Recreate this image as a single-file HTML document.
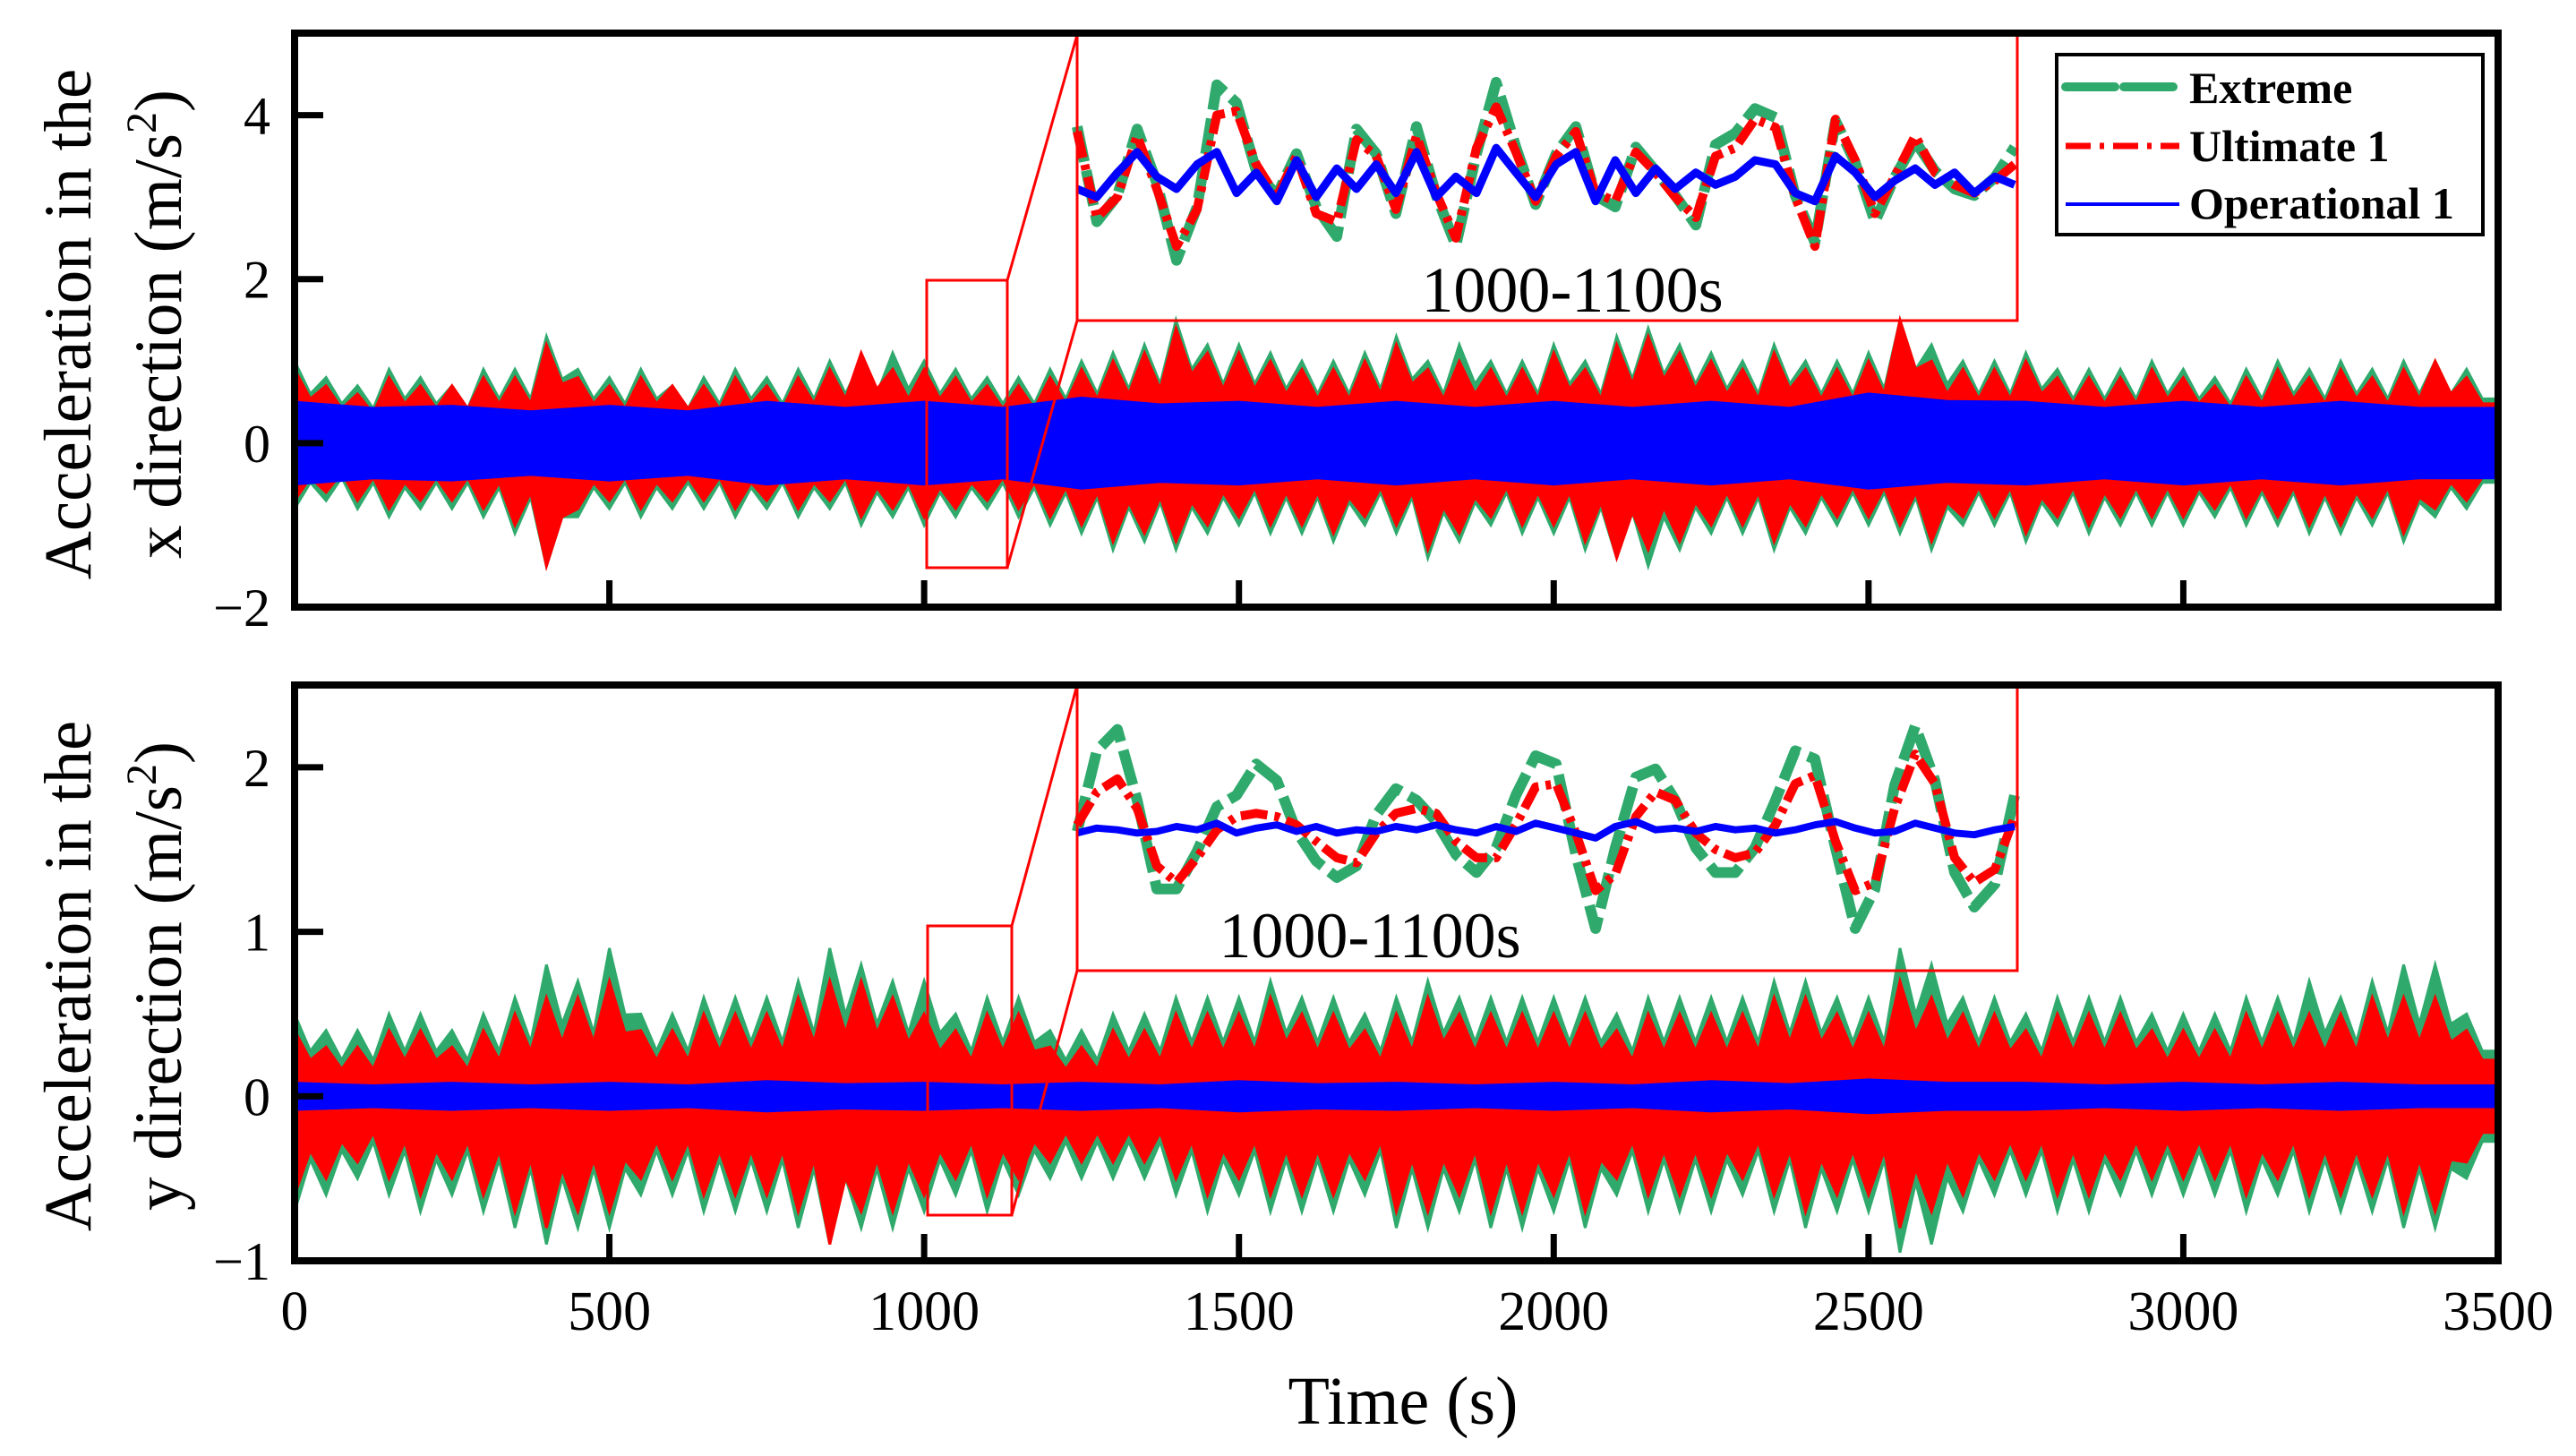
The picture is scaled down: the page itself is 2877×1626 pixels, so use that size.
<!DOCTYPE html>
<html><head><meta charset="utf-8"><style>
html,body{margin:0;padding:0;background:#fff;}
svg{display:block;font-family:"Liberation Serif",serif;}
</style></head><body>
<svg id="chart" width="2877" height="1626" viewBox="0 0 2877 1626" xmlns="http://www.w3.org/2000/svg">
<rect x="0" y="0" width="2877" height="1626" fill="#fff"/>
<g id="layer"></g>
</svg>
<script>
// ---- main series envelopes, 50 s bins (0..3500) ----
const binStarts = [0,50,100,150,200,250,300,350,400,450,500,550,600,650,700,750,800,850,900,950,1000,1050,1100,1150,1200,1250,1300,1350,1400,1450,1500,1550,1600,1650,1700,1750,1800,1850,1900,1950,2000,2050,2100,2150,2200,2250,2300,2350,2400,2450,2500,2550,2600,2650,2700,2750,2800,2850,2900,2950,3000,3050,3100,3150,3200,3250,3300,3350,3400,3450];
const xGreenUp = [1.0,0.8,0.7,0.9,0.8,0.7,0.9,0.9,1.3,0.9, 0.8,0.9,0.7,0.8,0.9,0.8,0.9,1.0,1.0,1.1, 1.0,0.9,0.8,0.8,0.9,1.0,1.1,1.2,1.5,1.2, 1.2,1.1,1.0,1.0,1.1,1.3,1.0,1.2,1.0,1.0, 1.2,1.0,1.3,1.4,1.2,1.1,1.0,1.2,1.0,1.0, 1.1,1.5,1.2,1.0,1.0,1.1,0.9,0.9,0.9,1.0, 0.9,0.8,0.9,1.0,0.9,1.0,0.9,1.0,1.0,0.9];
const xGreenLo = [-0.8,-0.7,-0.8,-0.9,-0.8,-0.8,-0.9,-1.1,-1.5,-0.9, -0.8,-0.9,-0.8,-0.8,-0.9,-0.8,-0.9,-0.8,-1.0,-0.9, -1.0,-0.9,-0.8,-0.9,-1.0,-1.1,-1.3,-1.2,-1.3,-1.1, -1.0,-1.1,-1.1,-1.2,-1.0,-1.1,-1.4,-1.2,-1.0,-1.1, -1.1,-1.3,-1.4,-1.5,-1.3,-1.1,-1.1,-1.3,-1.1,-1.0, -1.0,-1.1,-1.3,-1.0,-1.0,-1.2,-1.0,-1.1,-1.0,-1.0, -1.0,-0.9,-1.0,-1.0,-1.1,-1.1,-1.0,-1.2,-0.9,-0.8];
const xRedUp = [0.9,0.7,0.6,0.8,0.7,0.7,0.8,0.8,1.2,0.8, 0.7,0.8,0.7,0.7,0.8,0.7,0.8,0.9,1.1,0.9, 0.9,0.8,0.7,0.7,0.8,0.9,1.0,1.1,1.4,1.1, 1.1,1.0,0.9,0.9,1.0,1.2,0.9,1.0,0.9,0.9, 1.1,0.9,1.2,1.3,1.1,1.0,0.9,1.1,0.9,0.9, 1.0,1.5,1.0,0.9,0.9,1.0,0.8,0.8,0.8,0.9, 0.8,0.7,0.8,0.9,0.8,0.9,0.8,0.9,1.0,0.8];
const xRedLo = [-0.7,-0.6,-0.7,-0.8,-0.7,-0.7,-0.8,-1.0,-1.5,-0.8, -0.7,-0.8,-0.7,-0.7,-0.8,-0.7,-0.8,-0.7,-0.9,-0.8, -0.9,-0.8,-0.7,-0.8,-0.9,-1.0,-1.2,-1.1,-1.2,-1.0, -0.9,-1.0,-1.0,-1.1,-0.9,-1.0,-1.3,-1.1,-0.9,-1.0, -1.0,-1.2,-1.4,-1.3,-1.2,-1.0,-1.0,-1.2,-1.0,-0.9, -0.9,-1.0,-1.2,-0.9,-0.9,-1.1,-0.9,-1.0,-0.9,-0.9, -0.9,-0.8,-0.9,-0.9,-1.0,-1.0,-0.9,-1.1,-0.8,-0.7];
const yGreenUp = [0.5,0.4,0.4,0.5,0.5,0.4,0.5,0.6,0.8,0.7, 0.9,0.5,0.5,0.6,0.6,0.6,0.7,0.9,0.8,0.7, 0.7,0.5,0.6,0.6,0.4,0.4,0.5,0.5,0.6,0.6, 0.6,0.7,0.6,0.6,0.5,0.6,0.7,0.6,0.6,0.6, 0.6,0.6,0.5,0.6,0.6,0.6,0.6,0.7,0.7,0.6, 0.6,0.9,0.8,0.6,0.6,0.5,0.6,0.6,0.6,0.5, 0.5,0.5,0.6,0.6,0.7,0.6,0.7,0.8,0.8,0.5];
const yGreenLo = [-0.7,-0.6,-0.5,-0.6,-0.7,-0.6,-0.7,-0.8,-0.9,-0.8, -0.8,-0.6,-0.6,-0.7,-0.7,-0.7,-0.8,-0.9,-0.8,-0.8, -0.7,-0.6,-0.7,-0.6,-0.5,-0.5,-0.5,-0.5,-0.6,-0.7, -0.6,-0.7,-0.7,-0.7,-0.6,-0.8,-0.8,-0.7,-0.8,-0.8, -0.7,-0.8,-0.6,-0.7,-0.7,-0.7,-0.6,-0.7,-0.8,-0.7, -0.7,-0.95,-0.9,-0.7,-0.6,-0.6,-0.7,-0.7,-0.6,-0.6, -0.6,-0.6,-0.7,-0.6,-0.7,-0.7,-0.7,-0.8,-0.8,-0.5];
const yRedUp = [0.4,0.3,0.3,0.4,0.4,0.3,0.4,0.5,0.6,0.6, 0.7,0.4,0.4,0.5,0.5,0.5,0.6,0.7,0.7,0.6, 0.5,0.4,0.5,0.5,0.3,0.3,0.4,0.4,0.5,0.5, 0.5,0.6,0.5,0.5,0.4,0.5,0.6,0.5,0.5,0.5, 0.5,0.5,0.4,0.5,0.5,0.5,0.5,0.6,0.6,0.5, 0.5,0.7,0.6,0.5,0.5,0.4,0.5,0.5,0.5,0.4, 0.4,0.4,0.5,0.5,0.5,0.5,0.6,0.6,0.6,0.4];
const yRedLo = [-0.6,-0.5,-0.4,-0.5,-0.6,-0.5,-0.6,-0.7,-0.8,-0.7, -0.7,-0.5,-0.5,-0.6,-0.6,-0.6,-0.7,-0.9,-0.7,-0.7, -0.6,-0.5,-0.6,-0.5,-0.4,-0.4,-0.4,-0.4,-0.5,-0.6, -0.5,-0.6,-0.6,-0.6,-0.5,-0.7,-0.7,-0.6,-0.7,-0.7, -0.6,-0.7,-0.5,-0.6,-0.6,-0.6,-0.5,-0.6,-0.7,-0.6, -0.6,-0.8,-0.7,-0.6,-0.5,-0.5,-0.6,-0.6,-0.5,-0.5, -0.5,-0.5,-0.6,-0.5,-0.6,-0.6,-0.6,-0.7,-0.7,-0.4];
// blue envelopes, 250 s bins
const blueStarts = [0,250,500,750,1000,1250,1500,1750,2000,2250,2500,2750,3000,3250];
const xBlueUp = [0.5,0.45,0.45,0.5,0.5,0.55,0.5,0.5,0.5,0.5,0.6,0.5,0.5,0.5];
const xBlueLo = [-0.5,-0.45,-0.45,-0.5,-0.5,-0.55,-0.5,-0.5,-0.5,-0.5,-0.55,-0.5,-0.5,-0.5];
const yBlueUp = [0.08,0.08,0.08,0.09,0.08,0.08,0.09,0.08,0.08,0.09,0.1,0.08,0.08,0.08];
const yBlueLo = [-0.08,-0.08,-0.08,-0.09,-0.08,-0.08,-0.09,-0.08,-0.08,-0.09,-0.1,-0.08,-0.08,-0.08];
// ---- inset (1000-1100 s) values, in main-axis units ----
const insetTimes = [1000,1002.1,1004.3,1006.4,1008.5,1010.6,1012.8,1014.9,1017,1019.1,1021.3,1023.4,1025.5,1027.7,1029.8,1031.9,1034,1036.2,1038.3,1040.4,1042.6,1044.7,1046.8,1048.9,1051.1,1053.2,1055.3,1057.4,1059.6,1061.7,1063.8,1066,1068.1,1070.2,1072.3,1074.5,1076.6,1078.7,1080.9,1083,1085.1,1087.2,1089.4,1091.5,1093.6,1095.7,1097.9,1100];
const xInsetGreen = [3.86,2.70,3.02,3.83,3.17,2.23,2.88,4.37,4.15,3.32,3.02,3.53,2.88,2.52,3.83,3.53,2.80,3.86,3.02,2.41,3.53,4.40,3.61,2.91,3.53,3.86,3.02,2.88,3.61,3.32,3.02,2.66,3.64,3.78,4.08,3.97,3.02,2.45,3.93,3.42,2.70,3.24,3.68,3.32,3.10,3.02,3.24,3.61];
const xInsetRed = [3.80,2.75,3.00,3.75,3.10,2.40,2.85,4.00,4.05,3.40,3.00,3.50,2.80,2.70,3.70,3.50,2.85,3.75,3.05,2.50,3.60,4.10,3.55,2.95,3.50,3.80,3.05,2.95,3.55,3.30,3.00,2.75,3.50,3.60,3.95,3.85,3.00,2.40,3.95,3.45,2.80,3.25,3.75,3.30,3.15,3.05,3.20,3.40];
const xInsetBlue = [3.10,3.00,3.30,3.55,3.25,3.10,3.40,3.55,3.05,3.30,2.95,3.45,3.00,3.35,3.10,3.40,3.05,3.55,3.00,3.25,3.05,3.60,3.30,3.00,3.40,3.55,2.95,3.45,3.05,3.35,3.10,3.30,3.15,3.25,3.45,3.40,3.05,2.95,3.50,3.30,3.00,3.20,3.35,3.15,3.30,3.05,3.25,3.15];
const yInsetGreen = [1.61,2.10,2.23,1.80,1.26,1.26,1.49,1.76,1.83,2.02,1.92,1.61,1.43,1.33,1.40,1.71,1.87,1.80,1.67,1.47,1.36,1.51,1.83,2.07,2.02,1.47,1.02,1.51,1.94,1.99,1.80,1.51,1.36,1.36,1.51,1.80,2.10,2.05,1.51,1.02,1.26,1.89,2.25,1.92,1.36,1.15,1.29,1.83];
const yInsetRed = [1.65,1.85,1.93,1.75,1.40,1.30,1.45,1.62,1.70,1.72,1.70,1.65,1.55,1.45,1.42,1.60,1.72,1.75,1.72,1.55,1.45,1.45,1.65,1.88,1.90,1.60,1.25,1.35,1.70,1.85,1.80,1.60,1.50,1.45,1.48,1.65,1.90,1.95,1.55,1.25,1.30,1.75,2.08,1.90,1.45,1.30,1.38,1.70];
const yInsetBlue = [1.60,1.63,1.62,1.60,1.61,1.64,1.62,1.66,1.60,1.63,1.65,1.61,1.64,1.60,1.62,1.61,1.64,1.62,1.65,1.62,1.60,1.64,1.61,1.66,1.63,1.60,1.57,1.64,1.67,1.62,1.63,1.61,1.64,1.62,1.63,1.60,1.62,1.65,1.67,1.63,1.60,1.61,1.66,1.63,1.60,1.59,1.62,1.64];
const xTicks = [0,500,1000,1500,2000,2500,3000,3500];
const topYTicks = [-2,0,2,4];
const botYTicks = [-1,0,1,2];

const NS = "http://www.w3.org/2000/svg";
const layer = document.getElementById('layer');
function mk(tag, attrs, parent){ const e=document.createElementNS(NS,tag); for(const k in attrs) e.setAttribute(k,attrs[k]); (parent||layer).appendChild(e); return e; }

const X0=329, X1=2790;
const xs = t => X0 + (t/3500)*(X1-X0);
const pTop = {y0:37, y1:678, vmin:-2, vmax:5};
const pBot = {y0:765, y1:1408, vmin:-1, vmax:2.5};
const ys = (p,v) => p.y1 - (v-p.vmin)/(p.vmax-p.vmin)*(p.y1-p.y0);

function envelope(p, starts, width, up, lo, color, inner, name){
  const pts=[];
  for(let i=0;i<starts.length;i++){
    pts.push([xs(starts[i]), ys(p,up[i])]);
    pts.push([xs(starts[i]+width/2), ys(p,up[i]*inner)]);
  }
  pts.push([xs(3500), ys(p,up[up.length-1]*inner)]);
  pts.push([xs(3500), ys(p,lo[lo.length-1]*inner)]);
  for(let i=starts.length-1;i>=0;i--){
    pts.push([xs(starts[i]+width/2), ys(p,lo[i]*inner)]);
    pts.push([xs(starts[i]), ys(p,lo[i])]);
  }
  const el = mk('polygon',{points:pts.map(q=>q[0].toFixed(1)+','+q[1].toFixed(1)).join(' '),fill:color,stroke:color,'stroke-width':3,'stroke-linejoin':'miter'});
  
  
}
const GREEN='#2faa6c', RED='#ff0000', BLUE='#0000ff';
envelope(pTop,binStarts,50,xGreenUp,xGreenLo,GREEN,0.6,'x-extreme-series');
envelope(pTop,binStarts,50,xRedUp,xRedLo,RED,0.6,'x-ultimate-series');
envelope(pTop,blueStarts,250,xBlueUp,xBlueLo,BLUE,0.85,'x-operational-series');
envelope(pBot,binStarts,50,yGreenUp,yGreenLo,GREEN,0.55,'y-extreme-series');
envelope(pBot,binStarts,50,yRedUp,yRedLo,RED,0.55,'y-ultimate-series');
envelope(pBot,blueStarts,250,yBlueUp,yBlueLo,BLUE,0.8,'y-operational-series');

// insets
const IX0=1203, IX1=2250;
const ixs = t => IX0 + (t-1000)/100*(IX1-IX0);
function insetLine(p, vals, color, w, dash, name){
  const pts = vals.map((v,i)=>ixs(insetTimes[i]).toFixed(1)+','+ys(p,v).toFixed(1)).join(' ');
  const el = mk('polyline',{points:pts,fill:'none',stroke:color,'stroke-width':w,'stroke-dasharray':dash,'stroke-linejoin':'round'});
  
  
}
insetLine(pTop,xInsetGreen,GREEN,12,'40 10','x-inset-extreme');
insetLine(pTop,xInsetRed,RED,10,'30 8 6 8','x-inset-ultimate');
insetLine(pTop,xInsetBlue,BLUE,9,'none','x-inset-operational');
insetLine(pBot,yInsetGreen,GREEN,12,'40 10','y-inset-extreme');
insetLine(pBot,yInsetRed,RED,10,'30 8 6 8','y-inset-ultimate');
insetLine(pBot,yInsetBlue,BLUE,8,'none','y-inset-operational');

// zoom boxes & connectors
function rectEl(x,y,w,h,name){const e=mk('rect',{x:x,y:y,width:w,height:h,fill:'none',stroke:RED,'stroke-width':3});}
function lineEl(a,b,c,d,col,w,name){const e=mk('line',{x1:a,y1:b,x2:c,y2:d,stroke:col,'stroke-width':w});}
rectEl(1035,313,90,321,'x-zoom-region');
rectEl(1203,39,1050,319,'x-inset-box');
lineEl(1125,313,1203,39,RED,3,'x-connector-top');
lineEl(1125,634,1203,358,RED,3,'x-connector-bottom');
rectEl(1036,1034,94,323,'y-zoom-region');
rectEl(1203,765,1050,319,'y-inset-box');
lineEl(1130,1034,1203,765,RED,3,'y-connector-top');
lineEl(1130,1357,1203,1084,RED,3,'y-connector-bottom');
function txt(x,y,s,attrs,name){const e=mk('text',Object.assign({x:x,y:y},attrs));e.textContent=s;return e;}
txt(1756,348,'1000-1100s',{'font-size':72,'text-anchor':'middle'},'x-inset-label');
txt(1530,1069,'1000-1100s',{'font-size':72,'text-anchor':'middle'},'y-inset-label');

// axes frames and ticks
[pTop,pBot].forEach((p,pi)=>{
  const f=mk('rect',{x:X0,y:p.y0,width:X1-X0,height:p.y1-p.y0,fill:'none',stroke:'#000','stroke-width':8});
  
  
  xTicks.slice(1,-1).forEach(t=>{ lineEl(xs(t),p.y1,xs(t),p.y1-30,'#000',7,'x-tick'); });
  const yt = pi===0?topYTicks:botYTicks;
  yt.forEach(v=>{
    if(v>p.vmin) lineEl(X0,ys(p,v),X0+32,ys(p,v),'#000',7,'y-tick');
    txt(302,ys(p,v)+21,v<0?'\u2212'+Math.abs(v):String(v),{'font-size':60,'text-anchor':'end'},'y-tick-label');
  });
});
xTicks.forEach(t=>{ txt(xs(t),1485,String(t),{'font-size':62,'text-anchor':'middle'},'x-tick-label'); });
txt(1567,1590,'Time (s)',{'font-size':76,'text-anchor':'middle'},'x-axis-title');

// y titles
function ytitle(cy, dir, name){
  const g=mk('g',{});
  
  
  const t1=mk('text',{transform:'translate(101,'+cy+') rotate(-90)','text-anchor':'middle','font-size':75},g);
  t1.textContent='Acceleration in the';
  const t2=mk('text',{transform:'translate(202,'+cy+') rotate(-90)','text-anchor':'middle','font-size':75},g);
  t2.textContent=dir+' direction (m/s';
  const sup=mk('tspan',{'font-size':48,dy:-28},t2); sup.textContent='2';
  const cl=mk('tspan',{dy:28},t2); cl.textContent=')';
}
ytitle(362,'x','x-axis-y-title');
ytitle(1090,'y','y-axis-y-title');

// legend
const lg=mk('g',{});  
mk('rect',{x:2297,y:61,width:476,height:201,fill:'#fff',stroke:'#000','stroke-width':4},lg);
const entries=[['Extreme',GREEN,10,'55 10',97,115],['Ultimate 1',RED,7,'28 10 5 10',163,180],['Operational 1',BLUE,4,'none',228,244]];
entries.forEach(e=>{
  const l=mk('line',{x1:2307,y1:e[4],x2:2434,y2:e[4],stroke:e[1],'stroke-width':e[2],'stroke-dasharray':e[3],'stroke-linecap':e[0]==='Extreme'?'round':'butt'},lg);
  
  
  const t=mk('text',{x:2445,y:e[5],'font-size':50,'font-weight':'bold'},lg);
  t.textContent=e[0];
  
  
});
</script>
</body></html>
